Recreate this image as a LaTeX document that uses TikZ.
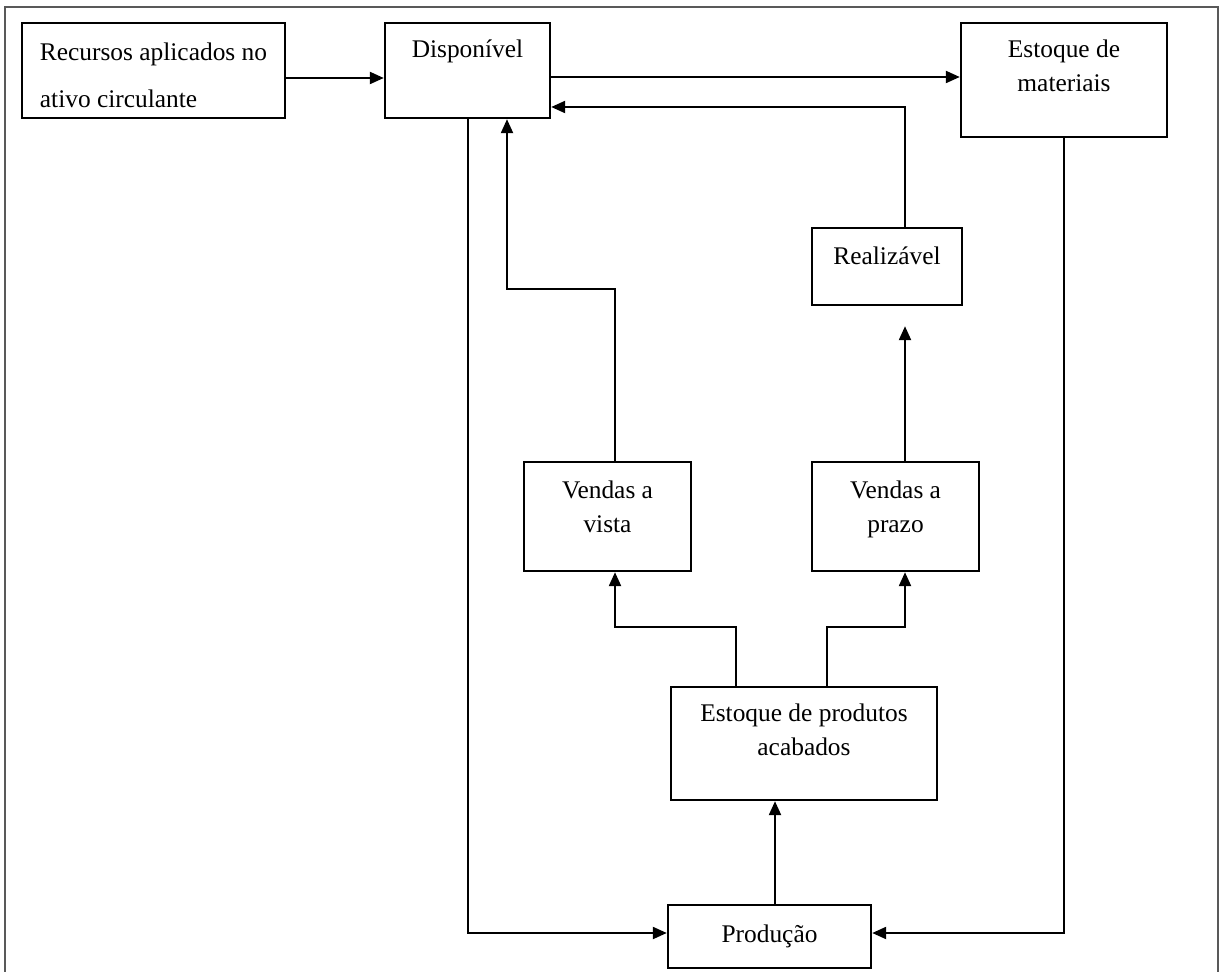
\documentclass[tikz,border=0pt]{standalone}
\usepackage{fontspec}
\setmainfont{Liberation Serif}
\usetikzlibrary{arrows.meta,positioning}

\begin{document}
\begin{tikzpicture}[>={Triangle[length=7pt,width=6pt]}, x=0.5pt, y=-0.5pt, on grid,
	box/.style={draw, line width=1.2pt, inner sep=0pt, align=center, font=\fontsize{12.7pt}{17pt}\selectfont},
	flow/.style={->, line width=1.1pt}]
	\useasboundingbox (0,0) rectangle (1220,972);
	\draw[line width=1.1pt, black!65] (5,972) -- (5,7) -- (1218,7) -- (1218,972);

	\node[box, minimum width=131.5pt, text height=42.5pt, text depth=5pt, align=left, font=\fontsize{12.7pt}{23.5pt}\selectfont] (rec) at (153.5,70.5) {Recursos aplicados no\\ativo circulante};
	\node[box, minimum width=82.5pt, text height=17.5pt, text depth=30pt] (disp) [right=157pt of rec] {Disponível};
	\node[box, minimum width=103pt, text height=34.5pt, text depth=22.5pt] (mat) at (1064,80) {Estoque de\\materiais};
	\node[box, minimum width=75pt, text height=18.5pt, text depth=20pt] (real) at (887,266.5) {Realizável};
	\node[box, minimum width=83.5pt, text height=35pt, text depth=19.5pt] (vista) at (607.5,516.5) {Vendas a\\vista};
	\node[box, minimum width=83.5pt, text height=35pt, text depth=19.5pt] (prazo) [right=144pt of vista] {Vendas a\\prazo};
	\node[box, minimum width=133pt, text height=34pt, text depth=22.5pt] (prod) at (804,743.5) {Estoque de produtos\\acabados};
	\node[box, minimum width=101.5pt, text height=18.5pt, text depth=13pt] (producao) at (769.5,936.5) {Produção};

	\coordinate (d1) at ([yshift=-3.25pt]disp.east);
	\coordinate (p1) at ([xshift=2.75pt]producao.north);
	\draw[flow] ([yshift=-3.75pt]rec.east) -- ([yshift=-3.75pt]disp.west);
	\draw[flow] (d1) -- (d1 -| mat.west);
	\draw[flow] ([xshift=9pt]real.north) |- ([yshift=-18.25pt]disp.east);
	\draw[flow] ([xshift=3.75pt]vista.north) -- ++(0,-172) -| ([xshift=19.75pt]disp.south);
	\draw[flow] ([xshift=4.75pt]prazo.north) -- ([xshift=9pt,yshift=-10pt]real.south);
	\draw[flow] ([xshift=-34pt]prod.north) -- ++(0,-59) -| ([xshift=3.75pt]vista.south);
	\draw[flow] ([xshift=11.5pt]prod.north) -- ++(0,-59) -| ([xshift=4.75pt]prazo.south);
	\draw[flow] (p1) -- (p1 |- prod.south);
	\draw[flow] ([xshift=0.25pt]disp.south) |- ([yshift=1.75pt]producao.west);
	\draw[flow] (mat.south) |- ([yshift=1.75pt]producao.east);
\end{tikzpicture}
\end{document}
